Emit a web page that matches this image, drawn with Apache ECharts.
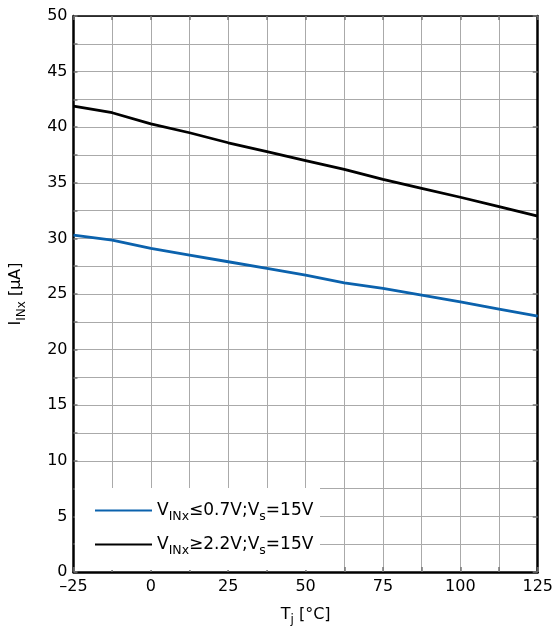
<!DOCTYPE html>
<html>
<head>
<meta charset="utf-8">
<script src="https://cdn.jsdelivr.net/npm/echarts@6/dist/echarts.min.js"></script>
<style>html,body{margin:0;padding:0;background:#fff}#c{width:556px;height:631px}</style>
</head>
<body>
<div id="c"></div>
<script>
var temps = [-25, -12.5, 0, 12.5, 25, 37.5, 50, 62.5, 75, 87.5, 100, 112.5, 125];
var lowInput = [30.3, 29.85, 29.1, 28.5, 27.9, 27.3, 26.7, 26.0, 25.5, 24.9, 24.3, 23.65, 23.0];
var highInput = [41.9, 41.3, 40.3, 39.5, 38.6, 37.8, 37.0, 36.2, 35.3, 34.5, 33.7, 32.85, 32.0];
var seriesNames = ['low', 'high'];
var xTicks = [-25, 0, 25, 50, 75, 100, 125];
var yTicks = [0, 5, 10, 15, 20, 25, 30, 35, 40, 45, 50];

var FONT = 'DejaVu Sans, Liberation Sans, Arial, sans-serif';
function pair(xs, ys) { return xs.map(function (x, i) { return [x, ys[i]]; }); }
function fmtX(v) {
  if (xTicks.indexOf(v) < 0) return '';
  return v < 0 ? '\u2013' + Math.abs(v) : String(v);
}
function fmtY(v) { return yTicks.indexOf(v) < 0 ? '' : String(v); }

var chart = echarts.init(document.getElementById('c'));
var gridLine = { show: true, lineStyle: { color: '#aaaaaa', width: 1 } };
var subRich = { sub: { fontSize: 12, fontFamily: FONT, padding: [11, 0, 0, 0] } };
chart.setOption({
  animation: false,
  grid: { left: 71, top: 16, right: 17, bottom: 59 },
  xAxis: [{
    type: 'value', min: -25, max: 125, interval: 12.5,
    axisLine: { onZero: false, lineStyle: { color: '#000', width: 2.5 } },
    axisTick: { show: true, inside: true, length: 5, lineStyle: { color: '#777', width: 1.5 } },
    axisLabel: { formatter: fmtX, color: '#000', fontSize: 16, fontFamily: FONT, margin: 7 },
    splitLine: gridLine,
    name: 'T{sub|j} [°C]', nameLocation: 'middle', nameGap: 31,
    nameTextStyle: { color: '#000', fontSize: 16, fontFamily: FONT, rich: subRich }
  }, {
    type: 'value', position: 'top', min: -25, max: 125, interval: 12.5,
    axisLine: { show: true, onZero: false, lineStyle: { color: '#000', width: 1.5 } },
    axisTick: { show: true, inside: true, length: 4, lineStyle: { color: '#777', width: 1.5 } },
    axisLabel: { show: false }, splitLine: { show: false }
  }],
  yAxis: [{
    type: 'value', min: 0, max: 50, interval: 2.5,
    axisLine: { show: true, onZero: false, lineStyle: { color: '#000', width: 2.5 } },
    axisTick: { show: true, inside: true, length: 4, lineStyle: { color: '#777', width: 1.5 } },
    axisLabel: { formatter: fmtY, color: '#000', fontSize: 16, fontFamily: FONT, margin: 6 },
    splitLine: gridLine,
    name: 'I{sub|INx} [µA]', nameLocation: 'middle', nameGap: 46, nameRotate: 90,
    nameTextStyle: { color: '#000', fontSize: 16, fontFamily: FONT, rich: subRich }
  }, {
    type: 'value', position: 'right', min: 0, max: 50, interval: 5,
    axisLine: { show: true, onZero: false, lineStyle: { color: '#000', width: 2.5 } },
    axisTick: { show: true, inside: true, length: 5, lineStyle: { color: '#777', width: 1.5 } },
    axisLabel: { show: false }, splitLine: { show: false }
  }],
  graphic: [{
    type: 'rect', z: 50, silent: true,
    shape: { x: 75, y: 488, width: 245, height: 82 },
    style: { fill: '#fff' }
  }],
  legend: {
    z: 60, orient: 'vertical', left: 90, top: 497, itemGap: 13,
    itemWidth: 57, itemHeight: 21, icon: 'path://M0,9.5 L57,9.5 L57,11.5 L0,11.5 Z',
    textStyle: { color: '#000', fontSize: 17, fontFamily: FONT,
      rich: { sub: { fontSize: 12.5, fontFamily: FONT, padding: [12, 0, 0, 0] } } },
    formatter: function (n) {
      return n === 'low' ? 'V{sub|INx}\u22640.7V;V{sub|s}=15V' : 'V{sub|INx}\u22652.2V;V{sub|s}=15V';
    },
    data: seriesNames
  },
  series: [{
    name: seriesNames[0], type: 'line', data: pair(temps, lowInput),
    showSymbol: false, symbol: 'none', lineStyle: { color: '#0b62ad', width: 2.8 },
    itemStyle: { color: '#0b62ad' }
  }, {
    name: seriesNames[1], type: 'line', data: pair(temps, highInput),
    showSymbol: false, symbol: 'none', lineStyle: { color: '#000', width: 2.8 },
    itemStyle: { color: '#000' }
  }]
});
</script>
</body>
</html>
